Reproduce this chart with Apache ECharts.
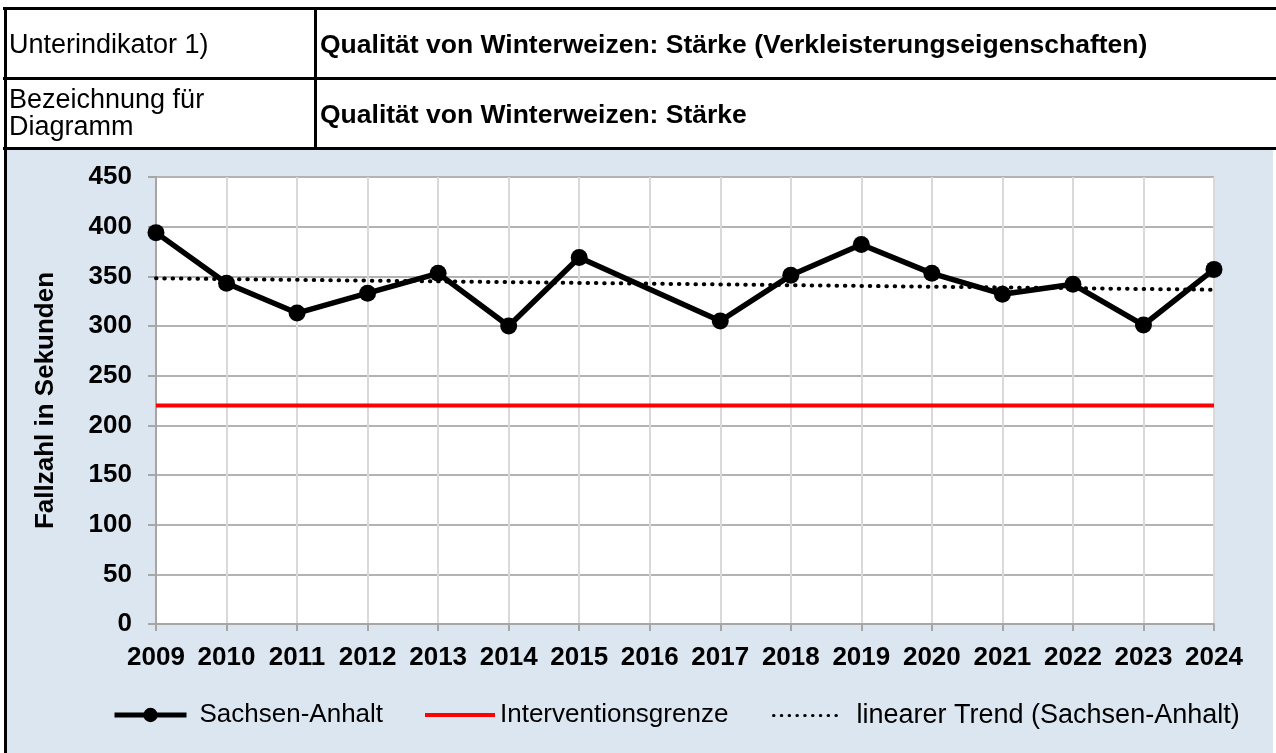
<!DOCTYPE html>
<html>
<head>
<meta charset="utf-8">
<script src="https://cdn.jsdelivr.net/npm/echarts@6/dist/echarts.min.js"></script>
<style>
html,body{margin:0;padding:0;background:#fff;}
#chart{width:1276px;height:753px;}
</style>
</head>
<body>
<div id="chart"></div>
<script>
// ---- data ----
const years = ['2009','2010','2011','2012','2013','2014','2015','2016','2017','2018','2019','2020','2021','2022','2023','2024'];
const sachsenAnhalt = [394, 343, 313, 333, 353, 300, 369, null, 305, 351, 382, 353, 332, 342, 301, 357];
const interventionsgrenze = [220, 220, 220, 220, 220, 220, 220, 220, 220, 220, 220, 220, 220, 220, 220, 220];
const trendSachsenAnhalt = [348, null, null, null, null, null, null, null, null, null, null, null, null, null, null, 336.5];
const yTicks = { min: 0, max: 450, interval: 50 };
const headerRow1Label = 'Unterindikator 1)';
const headerRow1Value = 'Qualität von Winterweizen: Stärke (Verkleisterungseigenschaften)';
const headerRow2Label = ['Bezeichnung für', 'Diagramm'];
const headerRow2Value = 'Qualität von Winterweizen: Stärke';
const yAxisName = 'Fallzahl in Sekunden';
const seriesNames = ['Sachsen-Anhalt', 'Interventionsgrenze', 'linearer Trend (Sachsen-Anhalt)'];

// ---- chart ----
const FONT = '"Liberation Sans", Arial, sans-serif';
const chart = echarts.init(document.getElementById('chart'), null, {renderer: 'canvas'});

const legendText = {fontFamily: FONT, fontSize: 26, color: '#000'};
const DOTS = [0.5, 7.8];

chart.setOption({
  animation: false,
  backgroundColor: '#ffffff',
  graphic: [
    {type: 'rect', z: -10, shape: {x: 4, y: 150, width: 1269, height: 603}, style: {fill: '#dce6f1'}},
    // table borders
    {type: 'rect', shape: {x: 3, y: 7, width: 1273, height: 3}, style: {fill: '#000'}},
    {type: 'rect', shape: {x: 3, y: 77, width: 1273, height: 3}, style: {fill: '#000'}},
    {type: 'rect', shape: {x: 3, y: 147, width: 1273, height: 3}, style: {fill: '#000'}},
    {type: 'rect', shape: {x: 4, y: 7, width: 3, height: 746}, style: {fill: '#000'}},
    {type: 'rect', shape: {x: 314, y: 7, width: 3, height: 143}, style: {fill: '#000'}},
    // table texts
    {type: 'text', left: 9, top: 32, style: {text: headerRow1Label, font: '27px ' + FONT, fill: '#000'}},
    {type: 'text', left: 320, top: 32, style: {text: headerRow1Value, font: 'bold 26.5px ' + FONT, fill: '#000'}},
    {type: 'text', left: 9, top: 87, style: {text: headerRow2Label.join('\n'), font: '27px ' + FONT, lineHeight: 27, fill: '#000'}},
    {type: 'text', left: 320, top: 102, style: {text: headerRow2Value, font: 'bold 26.5px ' + FONT, fill: '#000'}}
  ],
  grid: {
    left: 156, right: 62, top: 177, bottom: 129,
    show: true, backgroundColor: '#ffffff', borderWidth: 0
  },
  legend: [
    {
      data: [{name: seriesNames[0]}], left: 112, top: 702, padding: 0,
      itemWidth: 72, itemHeight: 18,
      lineStyle: {width: 5},
      textStyle: Object.assign({padding: [0, 0, 0, 8]}, legendText)
    },
    {
      data: [{name: seriesNames[1], itemStyle: {opacity: 0}}], left: 423, top: 702, padding: 0,
      itemWidth: 70, itemHeight: 18,
      lineStyle: {width: 4},
      textStyle: Object.assign({}, legendText)
    },
    {
      data: [{name: seriesNames[2], itemStyle: {opacity: 0}}], left: 772, top: 702, padding: 0,
      itemWidth: 70, itemHeight: 18,
      lineStyle: {width: 3, type: [0.5, 7.3], cap: 'round'},
      textStyle: Object.assign({padding: [0, 0, 0, 8]}, legendText, {fontSize: 27})
    }
  ],
  xAxis: {
    type: 'category',
    data: years,
    boundaryGap: false,
    axisLine: {show: true, lineStyle: {color: '#a6a6a6', width: 2}},
    axisTick: {show: true, length: 7, lineStyle: {color: '#a6a6a6', width: 2}},
    splitLine: {show: true, lineStyle: {color: '#d9d9d9', width: 2}},
    axisLabel: {fontFamily: FONT, fontSize: 26, fontWeight: 'bold', color: '#000', margin: 21, interval: 0}
  },
  yAxis: {
    type: 'value',
    min: yTicks.min, max: yTicks.max, interval: yTicks.interval,
    name: yAxisName,
    nameLocation: 'middle',
    nameGap: 97,
    nameTextStyle: {fontFamily: FONT, fontSize: 26, fontWeight: 'bold', color: '#000'},
    axisLine: {show: true, lineStyle: {color: '#a6a6a6', width: 2}},
    axisTick: {show: true, length: 8, lineStyle: {color: '#a6a6a6', width: 2}},
    splitLine: {show: true, lineStyle: {color: '#b3b3b3', width: 2}},
    axisLabel: {fontFamily: FONT, fontSize: 26, fontWeight: 'bold', color: '#000', margin: 24}
  },
  series: [
    {
      name: seriesNames[1], type: 'line', data: interventionsgrenze,
      symbol: 'none', lineStyle: {color: '#ff0000', width: 4}, itemStyle: {color: '#ff0000'}, z: 2
    },
    {
      name: seriesNames[2], type: 'line', data: trendSachsenAnhalt, connectNulls: true,
      symbol: 'none', lineStyle: {color: '#000', width: 4, type: DOTS, cap: 'round'}, itemStyle: {color: '#000'}, z: 3
    },
    {
      name: seriesNames[0], type: 'line', data: sachsenAnhalt, connectNulls: true,
      symbol: 'circle', symbolSize: 17,
      lineStyle: {color: '#000', width: 5.5}, itemStyle: {color: '#000'}, z: 4
    }
  ]
});
</script>
</body>
</html>
